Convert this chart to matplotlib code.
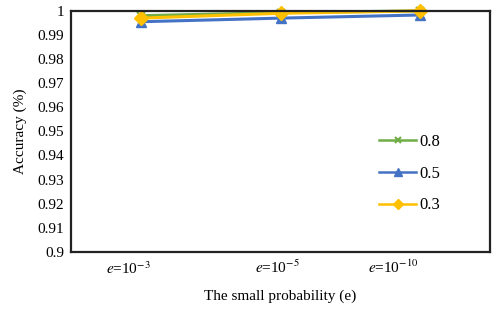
import matplotlib.pyplot as plt
import matplotlib.transforms as mtransforms

plt.rcParams['font.family'] = 'Liberation Serif'
plt.rcParams['mathtext.fontset'] = 'stix'

# data
categories = [r'$\it{e}$=10$^{-3}$', r'$\it{e}$=10$^{-5}$', r'$\it{e}$=10$^{-10}$']
acc_08 = [0.998, 0.9993, 1.0]
acc_05 = [0.9955, 0.997, 0.9983]
acc_03 = [0.997, 0.999, 1.0]
yticks = [0.9, 0.91, 0.92, 0.93, 0.94, 0.95, 0.96, 0.97, 0.98, 0.99, 1]

fig = plt.figure(figsize=(4.98, 3.11), dpi=100)
ax = fig.add_axes([0.143, 0.19, 0.841, 0.775])

x = [0.5, 1.5, 2.5]
ax.plot(x, acc_08, color='#70AD47', linewidth=2.2, marker='x', markersize=6,
        markeredgewidth=1.5, label='0.8', clip_on=False)
ax.plot(x, acc_05, color='#4472C4', linewidth=2.2, marker='^', markersize=7,
        label='0.5', clip_on=False)
ax.plot(x, acc_03, color='#FFC000', linewidth=2.2, marker='D', markersize=7,
        label='0.3', clip_on=False)

ax.set_xlim(0, 3)
ax.set_ylim(0.9, 1.0)
ax.set_yticks(yticks)
ax.set_yticklabels(['0.9', '0.91', '0.92', '0.93', '0.94', '0.95', '0.96',
                    '0.97', '0.98', '0.99', '1'], fontsize=11)
ax.set_xticks(x)
ax.set_xticklabels(categories, fontsize=11)
ax.tick_params(length=0, pad=5)

# Excel-like uneven label placement
shifts = [(-13, -2), (-3, 0), (-27, 0)]
for lab, (dx, dy) in zip(ax.get_xticklabels(), shifts):
    lab.set_transform(lab.get_transform() +
                      mtransforms.ScaledTranslation(dx / 100, dy / 100, fig.dpi_scale_trans))

for s in ax.spines.values():
    s.set_linewidth(1.6)
    s.set_color('#222222')

ax.set_ylabel('Accuracy (%)', fontsize=11, labelpad=8)
ax.set_xlabel('The small probability (e)', fontsize=11, labelpad=9)

leg = ax.legend(loc='center left', bbox_to_anchor=(0.7, 0.325), frameon=False,
                fontsize=12, handlelength=2.2, labelspacing=0.95, handletextpad=0.2,
                markerscale=0.75)
for h in leg.get_lines():
    h.set_linewidth(1.8)

fig.savefig('out.png', dpi=100)
